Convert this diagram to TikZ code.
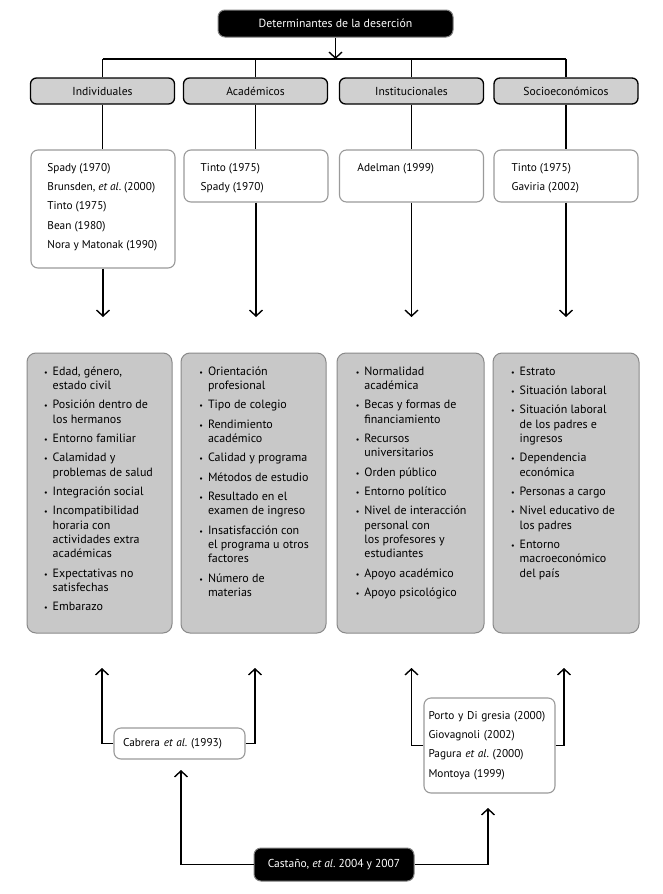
\documentclass[tikz,border=0pt]{standalone}
\usepackage{fontspec}
\setmainfont{PT Sans}
\usetikzlibrary{arrows.meta,calc}
\definecolor{catfill}{HTML}{D0D0D0}
\definecolor{boxfill}{HTML}{C8C8C8}
\definecolor{boxdraw}{HTML}{8A8A8A}
\definecolor{refdraw}{HTML}{9A9A9A}
\definecolor{blkdraw}{HTML}{808080}
\newcommand\bul{\leavevmode\llap{{\fontsize{8}{8}\selectfont\textbullet}\hspace{5pt}}}
\newcommand\tlines[2]{\parbox[t]{#1}{\raggedright #2}}
\frenchspacing
\begin{document}
\frenchspacing
\begin{tikzpicture}[x=1pt,y=-1pt,
  line width=1.4pt,
  arr/.style={-{Straight Barb[length=6pt,width=13pt,line width=1.4pt]}},
  blackbox/.style={draw=blkdraw,line width=1pt,fill=black,text=white,rounded corners=7pt,
    font=\fontsize{11.5}{13}\selectfont,inner sep=0pt},
  catbox/.style={draw=black,line width=1.3pt,fill=catfill,rounded corners=6pt,
    minimum width=144pt,minimum height=26pt,inner sep=0pt,font=\fontsize{11.6}{13}\selectfont},
  refbox/.style={draw=refdraw,line width=1.1pt,fill=white,rounded corners=7pt,
    minimum width=144pt,inner sep=0pt},
  reftext/.style={anchor=base west,inner sep=0pt,font=\fontsize{11.3}{19.4}\selectfont},
  greybox/.style={draw=boxdraw,line width=1pt,fill=boxfill,rounded corners=9pt,
    minimum height=280pt,inner sep=0pt},
  greytext/.style={anchor=base west,inner sep=0pt,font=\fontsize{12}{14.3}\selectfont},
]
\useasboundingbox[fill=white] (0,0) rectangle (662,894);

% top
\node[blackbox,minimum width=235pt,minimum height=27pt,font=\fontsize{11.8}{13}\selectfont] (top) at (335.5,23.5) {Determinantes de la deserción};
\coordinate (hl) at (335.5,59);

% categories
\node[catbox] (c1) at (102.5,91) {Individuales};
\node[catbox] (c2) at (255.5,91) {Académicos};
\node[catbox] (c3) at (411.5,91) {Institucionales};
\node[catbox] (c4) at (566,91) {Socioeconómicos};

\draw[arr] (top.south) -- (top.south|-hl);
\draw (c1.north|-hl) -- (c4.north|-hl);
\foreach \c in {c1,c2,c3,c4} \draw (\c.north|-hl) -- (\c.north);

% reference boxes
\node[refbox,minimum height=118pt] (r1) at (103,209) {};
\node[refbox,minimum height=52pt] (r2) at (256,176) {};
\node[refbox,minimum height=52pt] (r3) at (411.5,176) {};
\node[refbox,minimum height=52pt] (r4) at (566,176) {};

\node[reftext] (t1) at (46.7,171) {\tlines{125pt}{Spady (1970)\\Brunsden, \textit{et al}. (2000)\\Tinto (1975)\\Bean (1980)\\Nora y Matonak (1990)}};
\node[reftext] (t2) at (200,171) {\tlines{125pt}{Tinto (1975)\\Spady (1970)}};
\node[reftext] (t3) at (356.7,171) {\tlines{125pt}{Adelman (1999)}};
\node[reftext] (t4) at (511,171) {\tlines{125pt}{Tinto (1975)\\Gaviria (2002)}};

\foreach \c/\r in {c1/r1,c2/r2,c3/r3,c4/r4} \draw (\c.south) -- (\c.south|-\r.north);

\coordinate (a1) at (103,317);
\coordinate (a2) at (256,317);
\coordinate (a3) at (411.5,317);
\coordinate (a4) at (566,317);
\draw[arr] (r1.south) -- (a1);
\draw[arr] (r2.south) -- (a2);
\draw[arr] (r3.south) -- (a3);
\draw[arr] (r4.south) -- (a4);

% grey boxes
\node[greybox,minimum width=145pt] (g1) at (99.5,493) {};
\node[greybox,minimum width=145pt] (g2) at (253.5,493) {};
\node[greybox,minimum width=147pt] (g3) at (410.5,493) {};
\node[greybox,minimum width=146pt] (g4) at (566,493) {};

\node[greytext] (l1) at (52,375) {\tlines{130pt}{%
\bul Edad, género,\\estado civil\\[5.1pt]
\bul Posición dentro de\\los hermanos\\[5.1pt]
\bul Entorno familiar\\[5.1pt]
\bul Calamidad y\\problemas de salud\\[5.1pt]
\bul Integración social\\[5.1pt]
\bul Incompatibilidad\\horaria con\\actividades extra\\académicas\\[5.1pt]
\bul Expectativas no\\satisfechas\\[5.1pt]
\bul Embarazo}};

\node[greytext] (l2) at (207.3,375) {\tlines{130pt}{%
\bul Orientación\\profesional\\[5.1pt]
\bul Tipo de colegio\\[5.1pt]
\bul Rendimiento\\académico\\[5.1pt]
\bul Calidad y programa\\[5.1pt]
\bul Métodos de estudio\\[5.1pt]
\bul Resultado en el\\examen de ingreso\\[5.1pt]
\bul Insatisfacción con\\el programa u otros\\factores\\[5.1pt]
\bul Número de\\materias}};

\node[greytext] (l3) at (363.7,375) {\tlines{130pt}{%
\bul Normalidad\\académica\\[5.1pt]
\bul Becas y formas de\\financiamiento\\[5.1pt]
\bul Recursos\\universitarios\\[5.1pt]
\bul Orden público\\[5.1pt]
\bul Entorno político\\[5.1pt]
\bul Nivel de interacción\\personal con\\los profesores y\\estudiantes\\[5.1pt]
\bul Apoyo académico\\[5.1pt]
\bul Apoyo psicológico}};

\node[greytext] (l4) at (519,375) {\tlines{130pt}{%
\bul Estrato\\[5.1pt]
\bul Situación laboral\\[5.1pt]
\bul Situación laboral\\de los padres e\\ingresos\\[5.1pt]
\bul Dependencia\\económica\\[5.1pt]
\bul Personas a cargo\\[5.1pt]
\bul Nivel educativo de\\los padres\\[5.1pt]
\bul Entorno\\macroeconómico\\del país}};

% bottom
\node[refbox,minimum width=131pt,minimum height=31pt,text width=113pt,inner xsep=9pt,align=left,
  font=\fontsize{11.3}{19.4}\selectfont] (cab) at (179.5,743.5) {Cabrera \textit{et al}. (1993)};
\node[refbox,minimum width=131pt,minimum height=95pt,text width=122pt,inner xsep=4.5pt,align=left,
  font=\fontsize{11.3}{19.4}\selectfont] (po) at (489.5,745.5) {Porto y Di gresia (2000)\\Giovagnoli (2002)\\Pagura \textit{et al}. (2000)\\Montoya (1999)};
\node[blackbox,minimum width=160pt,minimum height=33pt] (cas) at (334,864.5) {Castaño, \textit{et al}. 2004 y 2007};

\coordinate (b1) at (102,668);
\coordinate (b2) at (255,668);
\coordinate (b3) at (411.5,668);
\coordinate (b4) at (564,668);
\coordinate (b5) at (181,770);
\coordinate (b6) at (488,808);
\draw[arr] (cab.west) -| (b1);
\draw[arr] (cab.east) -| (b2);
\draw[arr] (po.west) -| (b3);
\draw[arr] (po.east) -| (b4);
\draw[arr] (cas.west) -| (b5);
\draw[arr] (cas.east) -| (b6);
\end{tikzpicture}
\end{document}
